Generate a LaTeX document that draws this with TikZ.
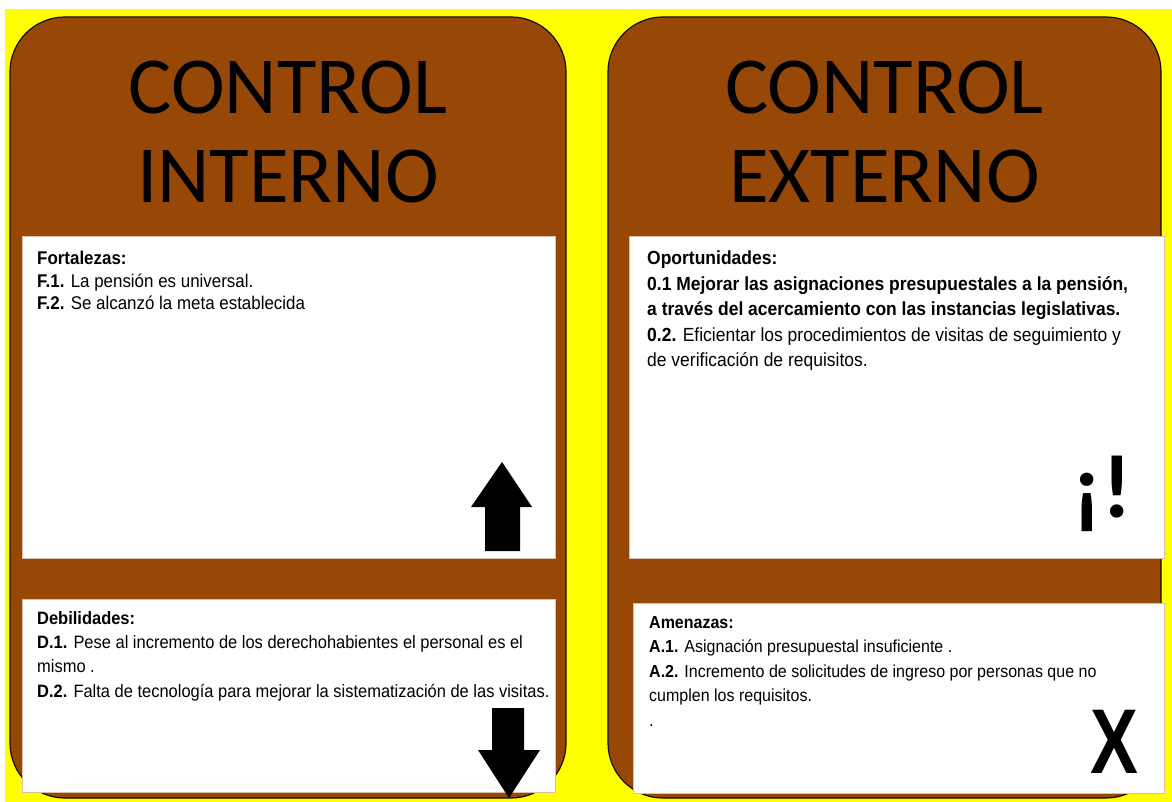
\documentclass[tikz,border=0pt]{standalone}
\usepackage{fontspec}
\setmainfont[FakeStretch=0.92]{Liberation Sans}
\newfontfamily\titlefont{Carlito}
\newfontfamily\signfont[FakeStretch=0.78]{Liberation Sans}
\usetikzlibrary{positioning}

\definecolor{cardbrown}{HTML}{984806}
\definecolor{bgyellow}{HTML}{FFFF00}

\tikzset{
  card/.style={fill=cardbrown, draw=black!85!cardbrown, line width=1.2pt, rounded corners=55pt},
  panel/.style={fill=white, draw=cardbrown!35, line width=0.6pt, inner sep=0pt, anchor=north west},
  heading/.style={font=\titlefont\fontsize{81}{89}\selectfont, align=center, inner sep=0pt},
  itemtext/.style={inner sep=0pt, align=left},
}

\begin{document}
\begin{tikzpicture}[x=1pt, y=-1pt]
    % Background
    \useasboundingbox (0,0) rectangle (1172,802);
    \fill[white] (0,0) rectangle (1172,802);
    \fill[bgyellow] (5,9) rectangle (1172,802);

    % Draw the two cards
    \draw[card] (10,17) rectangle (566,798);
    \draw[card] (608,17) rectangle (1161,798);

    % Titles
    \node[heading] (titleIn) at (288,131.5) {CONTROL\\INTERNO};
    \node[heading] (titleEx) at (884.5,131.5) {CONTROL\\EXTERNO};

    % White panels
    \node[panel, minimum width=533pt, minimum height=322pt] (fort) at (22,236) {};
    \node[panel, minimum width=533pt, minimum height=193pt] (debil) at (22,599) {};
    \node[panel, minimum width=535pt, minimum height=322pt] (oport) at (629,236) {};
    \node[panel, minimum width=531pt, minimum height=190pt] (amen) at (633,603) {};

    % Panel texts
    \node[itemtext, font=\fontsize{18.4}{22.5}\selectfont, below right=15pt and 15pt of fort.north west] (fortText)
      {\textbf{Fortalezas:}\\
       \textbf{F.1.} La pensión es universal.\\
       \textbf{F.2.} Se alcanzó la meta establecida};
    \node[itemtext, font=\fontsize{17.9}{24.3}\selectfont, below right=12pt and 15pt of debil.north west] (debilText)
      {\textbf{Debilidades:}\\
       \textbf{D.1.} Pese al incremento de los derechohabientes el personal es el\\
       mismo .\\
       \textbf{D.2.} Falta de tecnología para mejorar la sistematización de las visitas.};
    \node[itemtext, font=\fontsize{19}{25.5}\selectfont, below right=15pt and 18pt of oport.north west] (oportText)
      {\textbf{Oportunidades:}\\
       \textbf{0.1 Mejorar las asignaciones presupuestales a la pensión,}\\
       \textbf{a través del acercamiento con las instancias legislativas.}\\
       \textbf{0.2.} Eficientar los procedimientos de visitas de seguimiento y\\
       de verificación de requisitos.};
    \node[itemtext, font=\fontsize{17.4}{24.5}\selectfont, below right=13pt and 16pt of amen.north west] (amenText)
      {\textbf{Amenazas:}\\
       \textbf{A.1.} Asignación presupuestal insuficiente .\\
       \textbf{A.2.} Incremento de solicitudes de ingreso por personas que no\\
       cumplen los requisitos.\\
       .};

    % Up and down arrows
    \fill (502,462) -- (532,507) -- (520,507) -- (520,551) -- (485,551) -- (485,507) -- (471,507) -- cycle;
    \fill (492,708) -- (524,708) -- (524,750) -- (540,750) -- (509,798) -- (478,750) -- (492,750) -- cycle;

    % Signs
    \node[font=\titlefont\bfseries\fontsize{90}{90}\selectfont, anchor=base, inner sep=0pt] (alert) at (1102,517) {¡!};
    \node[font=\signfont\bfseries\fontsize{92}{92}\selectfont, anchor=base, inner sep=0pt] (threat) at (1114,773) {X};
\end{tikzpicture}
\end{document}
